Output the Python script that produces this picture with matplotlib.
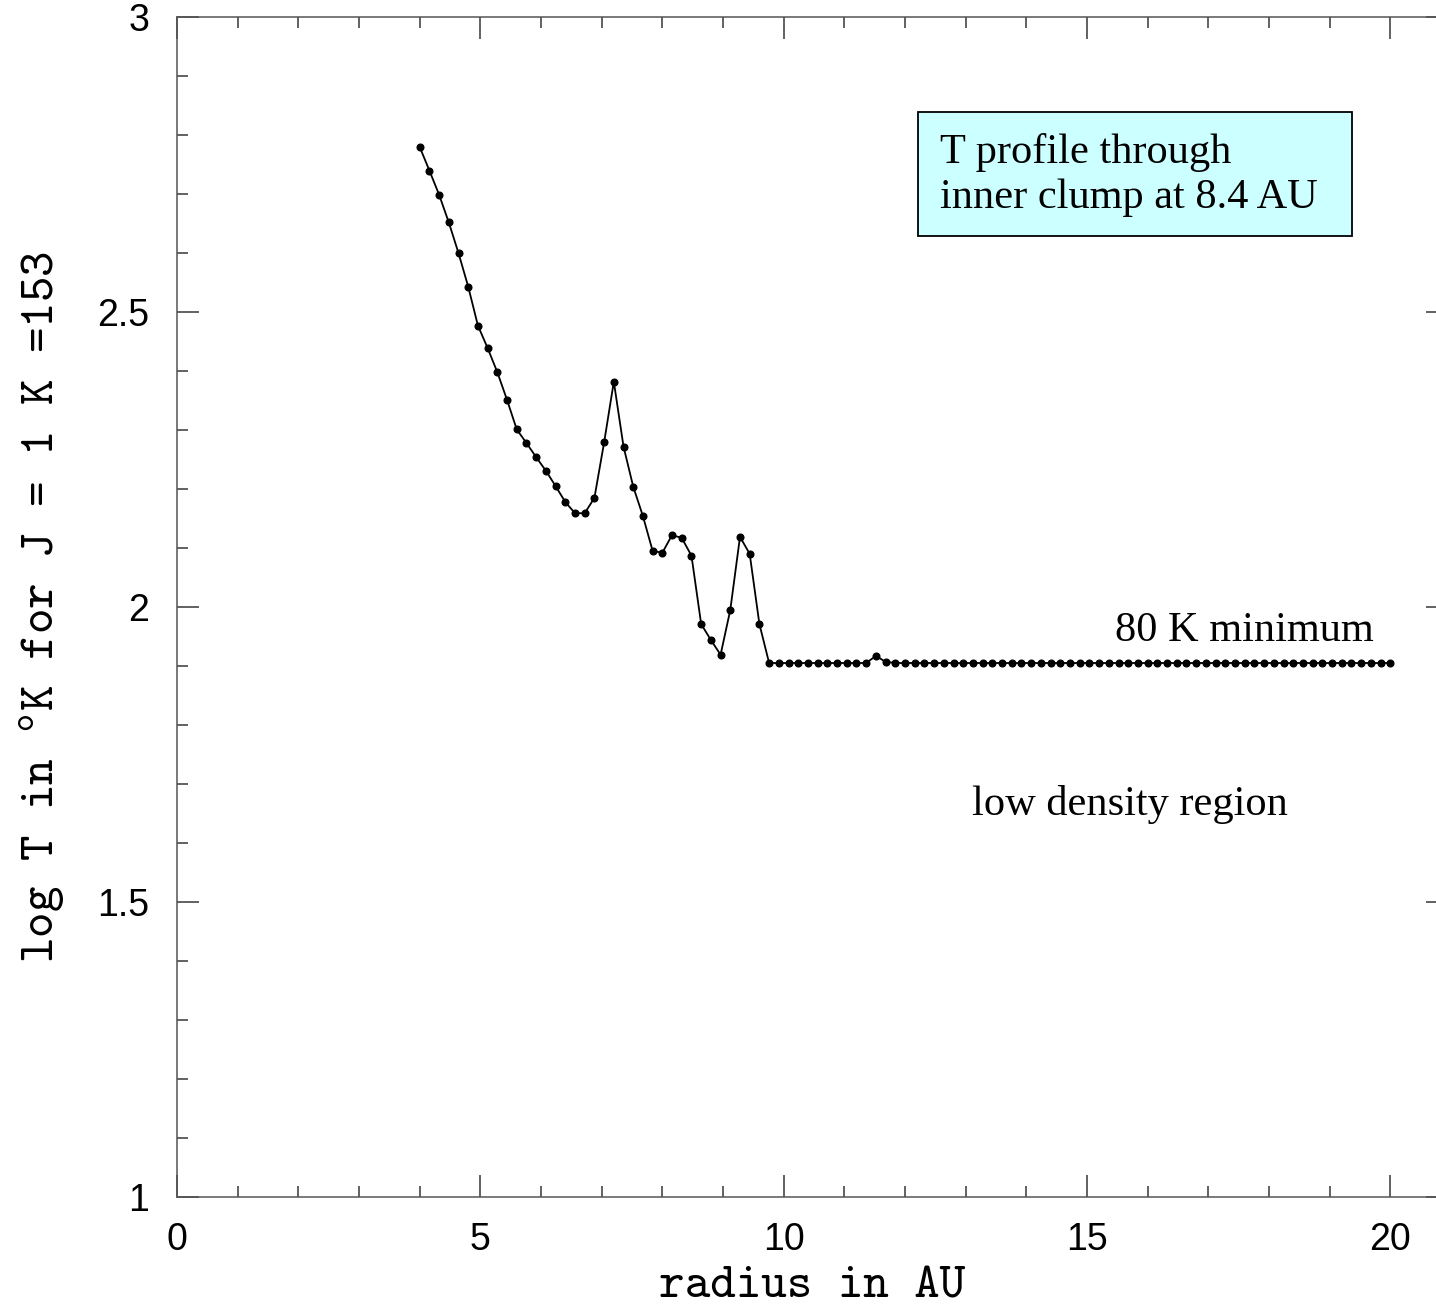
import matplotlib
matplotlib.use("Agg")
import matplotlib.pyplot as plt
from matplotlib.patches import Rectangle
from matplotlib.ticker import MultipleLocator

# radius samples (AU) and log T
radius = [
    4.00, 4.16, 4.32, 4.48, 4.64, 4.80, 4.96, 5.12, 5.28, 5.44,
    5.60, 5.76, 5.92, 6.08, 6.24, 6.40, 6.56, 6.72, 6.88, 7.04,
    7.20, 7.36, 7.52, 7.68, 7.84, 8.00, 8.16, 8.32, 8.48, 8.64,
    8.80, 8.96, 9.12, 9.28, 9.44, 9.60, 9.76, 9.92, 10.08, 10.24,
    10.40, 10.56, 10.72, 10.88, 11.04, 11.20, 11.36, 11.52, 11.68, 11.84,
    12.00, 12.16, 12.32, 12.48, 12.64, 12.80, 12.96, 13.12, 13.28, 13.44,
    13.60, 13.76, 13.92, 14.08, 14.24, 14.40, 14.56, 14.72, 14.88, 15.04,
    15.20, 15.36, 15.52, 15.68, 15.84, 16.00, 16.16, 16.32, 16.48, 16.64,
    16.80, 16.96, 17.12, 17.28, 17.44, 17.60, 17.76, 17.92, 18.08, 18.24,
    18.40, 18.56, 18.72, 18.88, 19.04, 19.20, 19.36, 19.52, 19.68, 19.84,
    20.00,
]
log_t = [
    2.780, 2.740, 2.699, 2.652, 2.600, 2.543, 2.477, 2.439, 2.398, 2.351,
    2.301, 2.278, 2.254, 2.231, 2.205, 2.178, 2.159, 2.159, 2.185, 2.279,
    2.382, 2.272, 2.204, 2.154, 2.095, 2.092, 2.122, 2.117, 2.087, 1.971,
    1.944, 1.919, 1.995, 2.119, 2.090, 1.971, 1.905, 1.905, 1.905, 1.905,
    1.905, 1.905, 1.905, 1.905, 1.905, 1.905, 1.905, 1.917, 1.907, 1.905,
    1.905, 1.905, 1.905, 1.905, 1.905, 1.905, 1.905, 1.905, 1.905, 1.905,
    1.905, 1.905, 1.905, 1.905, 1.905, 1.905, 1.905, 1.905, 1.905, 1.905,
    1.905, 1.905, 1.905, 1.905, 1.905, 1.905, 1.905, 1.905, 1.905, 1.905,
    1.905, 1.905, 1.905, 1.905, 1.905, 1.905, 1.905, 1.905, 1.905, 1.905,
    1.905, 1.905, 1.905, 1.905, 1.905, 1.905, 1.905, 1.905, 1.905, 1.905,
    1.905,
]

x_ticks = [0, 5, 10, 15, 20]
x_labels = ["0", "5", "10", "15", "20"]
y_ticks = [1, 1.5, 2, 2.5, 3]
y_labels = ["1", "1.5", "2", "2.5", "3"]

plt.rcParams["mathtext.fontset"] = "cm"

fig = plt.figure(figsize=(14.36, 13.08), dpi=100)
ax = fig.add_axes([0.1233, 0.0851, 0.885, 0.9017])

ax.plot(radius, log_t, color="black", lw=1.3, marker="o", ms=4.8,
        markerfacecolor="black", markeredgecolor="black")

ax.set_xlim(0, 20.95)
ax.set_ylim(1, 3)
ax.set_xticks(x_ticks)
ax.set_xticklabels(x_labels)
ax.set_yticks(y_ticks)
ax.set_yticklabels(y_labels)
ax.xaxis.set_minor_locator(MultipleLocator(1))
ax.yaxis.set_minor_locator(MultipleLocator(0.1))

grey = "#555555"
for sp in ax.spines.values():
    sp.set_color(grey)
    sp.set_linewidth(1.1)
ax.tick_params(which="both", direction="in", top=True, right=True,
               color=grey, width=1.3)
ax.tick_params(which="major", length=16)
ax.tick_params(axis="x", which="major", pad=18)
ax.tick_params(axis="y", which="major", pad=20)
ax.tick_params(which="minor", length=8)
for lab in ax.get_xticklabels() + ax.get_yticklabels():
    lab.set_family("Liberation Sans")
    lab.set_fontsize(27)

mono = "cmtt10"
ax.set_xlabel("radius in AU", family=mono, fontsize=35, labelpad=6)
ax.set_ylabel(r"log T in $^{\mathtt{o}}$K for J = 1 K =153", family=mono,
              fontsize=35, labelpad=22)

serif = "Liberation Serif"
ax.add_patch(Rectangle((12.22, 2.629), 7.15, 0.210, facecolor="#ccffff",
                       edgecolor="black", lw=1.3, zorder=3))
ax.text(12.58, 2.753, "T profile through", family=serif, fontsize=30.5,
        va="baseline", zorder=4)
ax.text(12.58, 2.677, "inner clump at 8.4 AU", family=serif, fontsize=30.5,
        va="baseline", zorder=4)
ax.text(15.47, 1.942, "80 K minimum", family=serif, fontsize=30.5, va="baseline")
ax.text(13.11, 1.647, "low density region", family=serif, fontsize=30.5, va="baseline")

fig.savefig("out.png", dpi=100)
